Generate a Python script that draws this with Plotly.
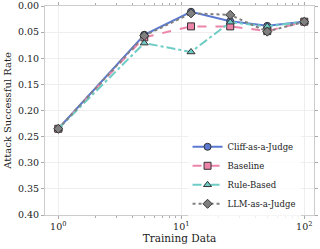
import plotly.graph_objects as go

training_data = [1, 5, 12, 25, 50, 100]
cliff = [0.235, 0.055, 0.011, 0.029, 0.038, 0.030]
baseline = [0.235, 0.060, 0.039, 0.039, 0.048, 0.030]
rule_based = [0.235, 0.071, 0.088, 0.031, 0.039, 0.030]
llm_judge = [0.235, 0.057, 0.014, 0.017, 0.049, 0.030]

series = [
    ("Cliff-as-a-Judge", cliff, "#5b79d1", "solid", "circle"),
    ("Baseline", baseline, "#ec84aa", "dash", "square"),
    ("Rule-Based", rule_based, "#6dcdc6", "dashdot", "triangle-up"),
    ("LLM-as-a-Judge", llm_judge, "#808080", "dot", "diamond"),
]

fig = go.Figure()
for name, vals, color, dash, sym in series:
    fig.add_trace(go.Scatter(
        x=training_data, y=vals, name=name, mode="lines+markers",
        line=dict(color=color, width=2, dash=dash),
        marker=dict(symbol=sym, size=7, color=color, line=dict(color="#333333", width=1)),
    ))

font = "DejaVu Serif"
minor_vals = [m * 10 ** e for e in range(0, 3) for m in range(2, 10)]
fig.update_layout(
    width=320, height=249,
    margin=dict(l=45, r=6, t=6, b=34),
    paper_bgcolor="white", plot_bgcolor="white",
    font=dict(family=font, size=9, color="#222222"),
    legend=dict(x=0.95, y=0.19, xanchor="right", yanchor="middle",
                bgcolor="rgba(255,255,255,0.8)", font=dict(size=8.5),
                tracegroupgap=0, itemwidth=30),
)
fig.update_xaxes(
    type="log", range=[-0.108, 2.079], automargin=False,
    tickvals=[1, 10, 100], ticktext=["10<sup>0</sup>", "10<sup>1</sup>", "10<sup>2</sup>"],
    ticks="outside", ticklen=3, tickcolor="#aaaaaa",
    minor=dict(tickvals=minor_vals, ticks="outside", ticklen=2, tickcolor="#aaaaaa", showgrid=False),
    showline=True, linecolor="#cccccc", linewidth=1, mirror="ticks",
    showgrid=True, gridcolor="#eeeeee",
    title=dict(text="Training Data", font=dict(size=10.5), standoff=1),
    tickfont=dict(size=9.5),
)
fig.update_yaxes(
    range=[0.40, 0.0], tickvals=[0, 0.05, 0.10, 0.15, 0.20, 0.25, 0.30, 0.35, 0.40],
    tickformat=".2f", automargin=False,
    ticks="outside", ticklen=3, tickcolor="#aaaaaa",
    showline=True, linecolor="#cccccc", linewidth=1, mirror="ticks",
    showgrid=True, gridcolor="#eeeeee", zeroline=False,
    title=dict(text="Attack Successful Rate", font=dict(size=10), standoff=4),
    tickfont=dict(size=9.5),
)

fig.write_html("out.html", config={"displayModeBar": False},
               post_script="document.body.style.margin='0';document.body.style.overflow='hidden';")
